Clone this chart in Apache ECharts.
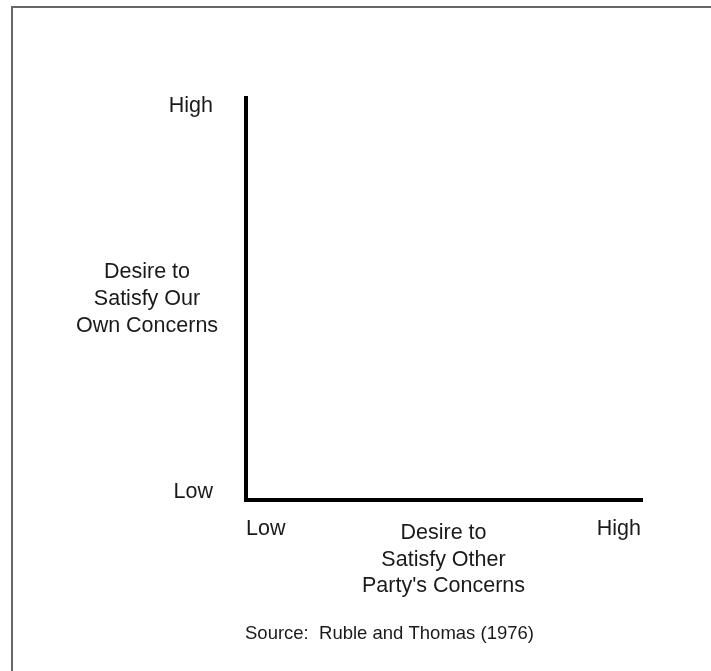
<!DOCTYPE html>
<html>
<head>
<meta charset="utf-8">
<script src="https://cdn.jsdelivr.net/npm/echarts@6/dist/echarts.min.js"></script>
<style>
  html, body { margin: 0; padding: 0; background: #fff; }
  #chart { width: 711px; height: 671px; }
</style>
</head>
<body>
<div id="chart"></div>
<script>
// axis end labels, low -> high
const levels = ['Low', 'High']
const xName = 'Desire to\nSatisfy Other\nParty\'s Concerns'
const yName = 'Desire to\nSatisfy Our\nOwn Concerns'
const sourceNote = 'Source:  Ruble and Thomas (1976)'

const font = 'Liberation Sans, Arial, Helvetica, sans-serif'
const ink = '#1a1a1a'

const levelLabel = (v) => levels[v] || ''

const option = {
  backgroundColor: '#fff',
  animation: false,
  title: {
    text: sourceNote,
    left: 240,
    top: 619,
    textStyle: { fontFamily: font, fontSize: 18.5, fontWeight: 'normal', color: ink }
  },
  grid: { left: 246, right: 70, top: 98, bottom: 171, containLabel: false },
  xAxis: {
    type: 'value',
    min: 0,
    max: 1,
    interval: 1,
    name: xName,
    nameLocation: 'middle',
    nameGap: 20,
    nameMoveOverlap: false,
    nameTextStyle: { fontFamily: font, fontSize: 21.5, color: ink, lineHeight: 26.5, align: 'center', verticalAlign: 'top' },
    axisLine: { show: true, lineStyle: { color: '#000', width: 4, cap: 'square' } },
    axisTick: { show: false },
    splitLine: { show: false },
    axisLabel: {
      formatter: levelLabel,
      margin: 18,
      alignMinLabel: 'left',
      alignMaxLabel: 'right',
      fontFamily: font, fontSize: 21.5, color: ink
    }
  },
  yAxis: {
    type: 'value',
    min: 0,
    max: 1,
    interval: 1,
    name: yName,
    nameLocation: 'middle',
    nameRotate: 0,
    nameGap: 99,
    nameMoveOverlap: false,
    nameTextStyle: { fontFamily: font, fontSize: 21.5, color: ink, lineHeight: 27, align: 'center' },
    axisLine: { show: true, lineStyle: { color: '#000', width: 4, cap: 'square' } },
    axisTick: { show: false },
    splitLine: { show: false },
    axisLabel: {
      formatter: (v) => v === 1 ? '{hi|' + levelLabel(v) + '}' : '{lo|' + levelLabel(v) + '}',
      margin: 33,
      rich: {
        hi: { fontFamily: font, fontSize: 21.5, color: ink, padding: [16, 0, 0, 0] },
        lo: { fontFamily: font, fontSize: 21.5, color: ink, padding: [0, 0, 16, 0] }
      }
    }
  },
  graphic: [{
    type: 'rect',
    silent: true,
    shape: { x: 12, y: 7, width: 800, height: 800 },
    style: { fill: 'none', stroke: '#666', lineWidth: 2 }
  }],
  series: []
}

echarts.init(document.getElementById('chart')).setOption(option)
</script>
</body>
</html>
